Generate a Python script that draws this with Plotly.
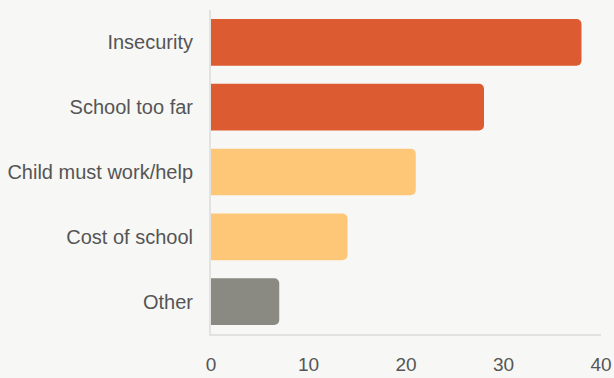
import plotly.graph_objects as go

categories = ["Insecurity", "School too far", "Child must work/help", "Cost of school", "Other"]
values = [38, 28, 21, 14, 7]
colors = ["#DD5B31", "#DD5B31", "#FEC777", "#FEC777", "#8A8A82"]
x_ticks = [0, 10, 20, 30, 40]

fig = go.Figure(
    go.Bar(
        y=categories,
        x=values,
        orientation="h",
        marker=dict(color=colors, line=dict(width=0)),
        hoverinfo="x+y",
    )
)

bg = "#F7F7F5"
fig.update_layout(
    width=614,
    height=378,
    margin=dict(l=211, r=13, t=10, b=44),
    paper_bgcolor=bg,
    plot_bgcolor=bg,
    bargap=0.28,
    barcornerradius=5,
    font=dict(family="Liberation Sans, Arial, sans-serif", color="#555555", size=20),
    showlegend=False,
)
fig.update_xaxes(
    range=[0, 40],
    tickvals=x_ticks,
    showgrid=False,
    zeroline=False,
    showline=True,
    linecolor="#E2E2E0",
    linewidth=2,
    ticks="outside",
    tickcolor="rgba(0,0,0,0)",
    ticklen=12,
    tickfont=dict(size=19),
    automargin=False,
)
fig.update_yaxes(
    categoryorder="array",
    categoryarray=categories[::-1],
    range=[-0.5, 4.5],
    showgrid=False,
    zeroline=False,
    showline=True,
    linecolor="#E2E2E0",
    linewidth=2,
    ticks="outside",
    tickcolor="rgba(0,0,0,0)",
    ticklen=12,
    tickfont=dict(size=20),
    automargin=False,
)

fig.write_html("out.html")
